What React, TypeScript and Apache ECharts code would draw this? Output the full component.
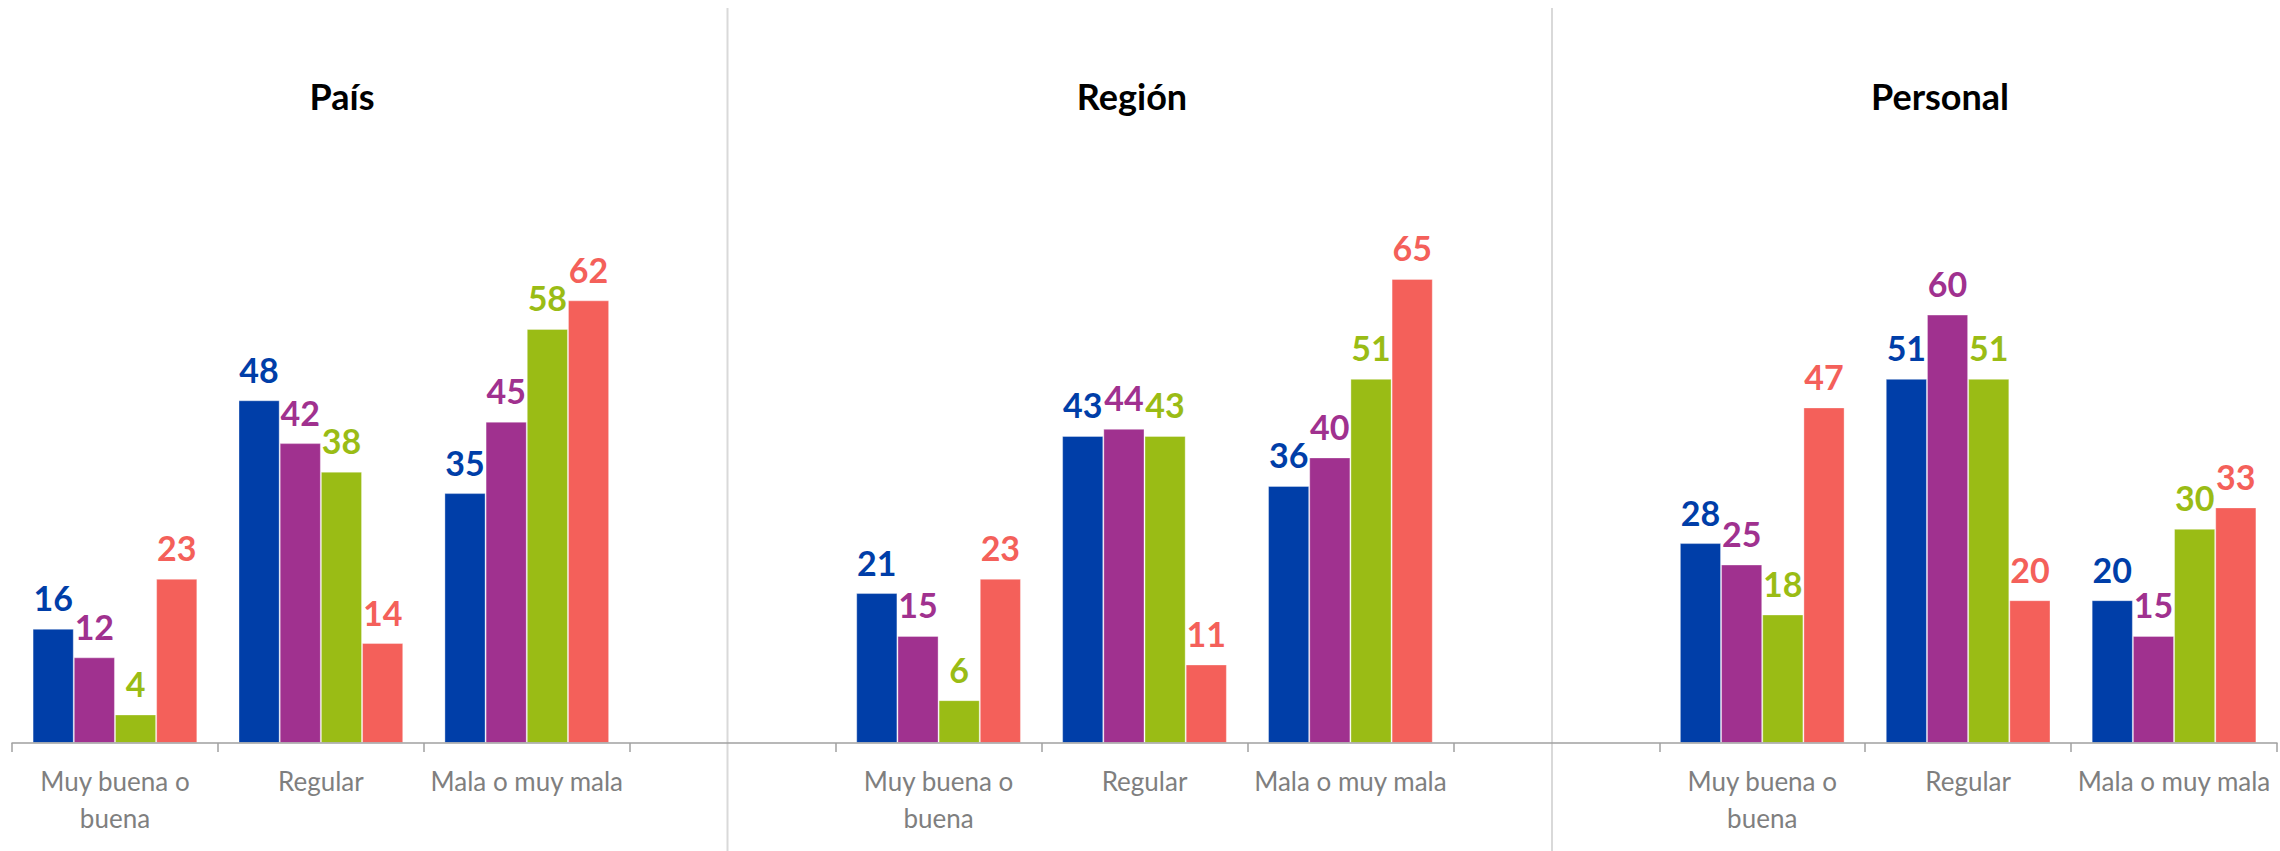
import React, { useEffect, useRef } from 'react';
import * as echarts from 'echarts';

const panelTitles = ['País', 'Región', 'Personal'];
const categories = ['Muy buena o buena', 'Regular', 'Mala o muy mala'];
// values per panel (País, Región, Personal), 3 categories each
const blueValues = [16, 48, 35, 21, 43, 36, 28, 51, 20];
const purpleValues = [12, 42, 45, 15, 44, 40, 25, 60, 15];
const greenValues = [4, 38, 58, 6, 43, 51, 18, 51, 30];
const redValues = [23, 14, 62, 23, 11, 65, 47, 20, 33];
const seriesNames = ['Serie 1', 'Serie 2', 'Serie 3', 'Serie 4'];
const yMax = 100;

const colors = ['#003ea8', '#a0318f', '#9abc15', '#f4605a'];
const titleX = [342, 1132, 1940];
const separatorX = [727.5, 1552];
const FONT = 'Lato, "Open Sans", sans-serif';

function spread(values: number[]): (number | null)[] {
  const out: (number | null)[] = [];
  for (let p = 0; p < panelTitles.length; p++) {
    for (let c = 0; c < categories.length; c++) out.push(values[p * categories.length + c]);
    if (p < panelTitles.length - 1) out.push(null);
  }
  return out;
}

function axisCategories(): string[] {
  const out: string[] = [];
  for (let p = 0; p < panelTitles.length; p++) {
    for (let c = 0; c < categories.length; c++) out.push(categories[c]);
    if (p < panelTitles.length - 1) out.push('');
  }
  return out;
}

export default function App() {
  const ref = useRef<HTMLDivElement>(null);
  useEffect(() => {
    document.body.style.margin = '0';
    const chart = echarts.init(ref.current!, null, { renderer: 'svg' });
    const allValues = [blueValues, purpleValues, greenValues, redValues];
    const elements: any[] = [];
    separatorX.forEach((x) => {
      elements.push({
        type: 'line',
        shape: { x1: x, y1: 8, x2: x, y2: 851 },
        style: { stroke: '#d9d9d9', lineWidth: 2 },
        silent: true,
        z: -1,
      });
    });
    panelTitles.forEach((t, i) => {
      elements.push({
        type: 'text',
        x: titleX[i],
        y: 96,
        style: {
          text: t,
          fill: '#000000',
          font: `bold 36px ${FONT}`,
          textAlign: 'center',
          textVerticalAlign: 'middle',
        },
      });
    });
    chart.setOption({
      animation: false,
      backgroundColor: '#ffffff',
      grid: { left: 12, right: 3, top: 29, bottom: 108, containLabel: false },
      graphic: { elements },
      xAxis: {
        type: 'category',
        data: axisCategories(),
        z: 5,
        axisLine: { lineStyle: { color: '#a0a0a0', width: 1.5 } },
        axisTick: { show: true, length: 9, lineStyle: { color: '#a0a0a0', width: 1.5 } },
        axisLabel: {
          interval: 0,
          color: '#7f7f7f',
          fontSize: 26,
          lineHeight: 37,
          margin: 19,
          fontFamily: FONT,
          formatter: (v: string) => (v === 'Muy buena o buena' ? 'Muy buena o\nbuena' : v),
        },
      },
      yAxis: {
        type: 'value',
        min: 0,
        max: yMax,
        show: false,
        splitLine: { show: false },
      },
      series: allValues.map((vals, i) => ({
        type: 'bar',
        name: seriesNames[i],
        data: spread(vals),
        barGap: '0%',
        barCategoryGap: '20%',
        itemStyle: { color: colors[i], borderColor: 'rgba(255,255,255,0.35)', borderWidth: 1 },
        label: {
          show: true,
          position: 'top',
          distance: 14,
          color: colors[i],
          fontWeight: 'bold',
          fontSize: 34,
          fontFamily: FONT,
        },
      })),
    });
    return () => chart.dispose();
  }, []);
  return <div ref={ref} style={{ width: 2280, height: 851 }} />;
}
